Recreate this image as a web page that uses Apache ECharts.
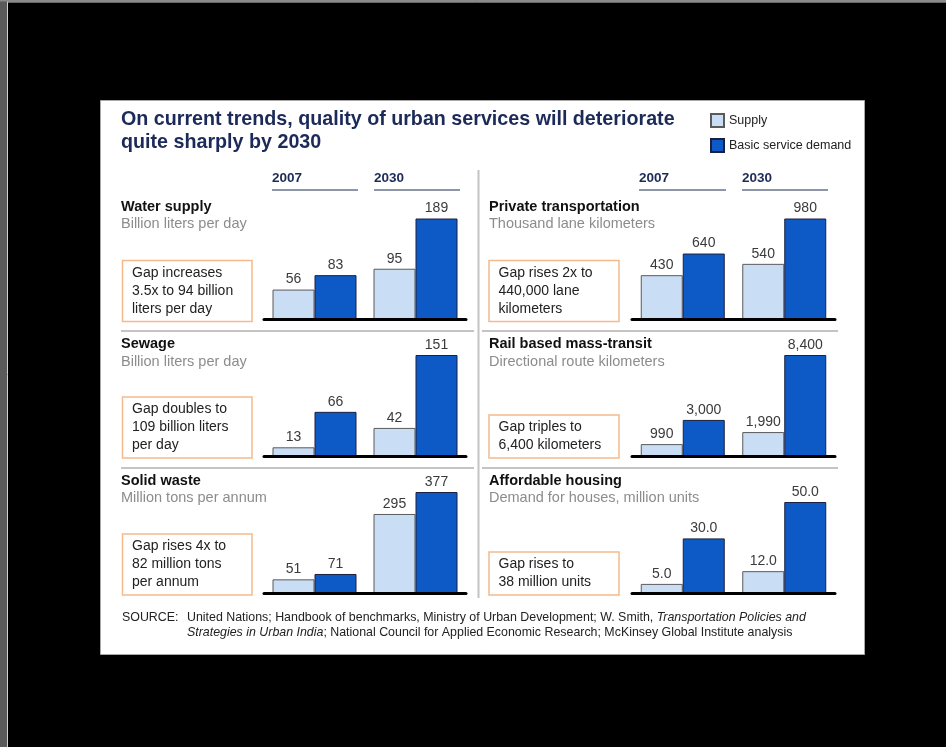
<!DOCTYPE html>
<html>
<head>
<meta charset="utf-8">
<title>Urban services outlook</title>
<script src="https://cdn.jsdelivr.net/npm/echarts@6/dist/echarts.min.js"></script>
<style>
  html, body { margin: 0; padding: 0; background: #000; }
  #chart { width: 946px; height: 747px; }
</style>
</head>
<body>
<div id="chart"></div>
<script>
// ---- data ----
const years = ['2007', '2030'];
const panelTitles = ['Water supply', 'Sewage', 'Solid waste',
  'Private transportation', 'Rail based mass-transit', 'Affordable housing'];
const panelUnits = ['Billion liters per day', 'Billion liters per day', 'Million tons per annum',
  'Thousand lane kilometers', 'Directional route kilometers', 'Demand for houses, million units'];
const supplyValues = [[56, 95], [13, 42], [51, 295], [430, 540], [990, 1990], [5.0, 12.0]];
const demandValues = [[83, 189], [66, 151], [71, 377], [640, 980], [3000, 8400], [30.0, 50.0]];
const scaleMax = [189, 151, 377, 980, 8400, 55.5];
const labelDecimals = [0, 0, 0, 0, 0, 1];
const gapNotes = [
  ['Gap increases', '3.5x to 94 billion', 'liters per day'],
  ['Gap doubles to', '109 billion liters', 'per day'],
  ['Gap rises 4x to', '82 million tons', 'per annum'],
  ['Gap rises 2x to', '440,000 lane', 'kilometers'],
  ['Gap triples to', '6,400 kilometers'],
  ['Gap rises to', '38 million units']
];
const seriesNames = ['Supply', 'Basic service demand'];
const titleLines = ['On current trends, quality of urban services will deteriorate', 'quite sharply by 2030'];

// ---- layout ----
const FONT = '"Liberation Sans", Arial, Helvetica, sans-serif';
const NAVY = '#1b2a58';
const SUPPLY_FILL = '#c9ddf5';
const DEMAND_FILL = '#0d59c5';
const PLOT_H = 101;
const COLS = [
  { titleX: 121, gridLeft: 264, gridWidth: 202, boxX: 122.5, boxW: 129.5, lineX0: 121, lineX1: 474,
    heads: [[272, 358], [374, 460]] },
  { titleX: 489, gridLeft: 632, gridWidth: 203, boxX: 489, boxW: 130, lineX0: 482, lineX1: 838,
    heads: [[639, 726], [742, 828]] }
];
const ROWS = [
  { base: 319.5, titleY: 207, subY: 224 },
  { base: 456, titleY: 344, subY: 362 },
  { base: 593, titleY: 481, subY: 498 }
];

function fmt(v, d) {
  return v.toLocaleString('en-US', { minimumFractionDigits: d, maximumFractionDigits: d });
}

const grids = [], xAxes = [], yAxes = [], series = [];
const graphics = [];

// page frame and white card
graphics.push({ type: 'rect', z: 0, shape: { x: 0, y: 0, width: 7, height: 747 }, style: { fill: '#5a5a5a' } });
graphics.push({ type: 'rect', z: 0, shape: { x: 0, y: 0, width: 946, height: 1.5 }, style: { fill: '#8a8a8a' } });
graphics.push({ type: 'line', z: 0, shape: { x1: 7.5, y1: 1.5, x2: 7.5, y2: 747 }, style: { stroke: '#d0d0d0', lineWidth: 1 } });
graphics.push({ type: 'line', z: 0, shape: { x1: 7.5, y1: 2, x2: 946, y2: 2 }, style: { stroke: '#d0d0d0', lineWidth: 1 } });
graphics.push({ type: 'rect', z: 0, shape: { x: 100.5, y: 100.5, width: 764, height: 554 },
  style: { fill: '#fff', stroke: '#a8a8a8', lineWidth: 1 } });

// heading
titleLines.forEach((t, k) => {
  graphics.push({ type: 'text', z: 2, x: 121, y: 120 + k * 23,
    style: { text: t, fill: NAVY, font: 'bold 19.7px ' + FONT, textVerticalAlign: 'middle' } });
});

// dividers
graphics.push({ type: 'line', z: 2, shape: { x1: 478.5, y1: 170, x2: 478.5, y2: 598 },
  style: { stroke: '#c4c4c4', lineWidth: 2 } });
[331, 468].forEach(y => {
  COLS.forEach(c => {
    graphics.push({ type: 'line', z: 2, shape: { x1: c.lineX0, y1: y, x2: c.lineX1, y2: y },
      style: { stroke: '#c4c4c4', lineWidth: 2 } });
  });
});

// year headers
COLS.forEach(c => {
  c.heads.forEach((h, k) => {
    graphics.push({ type: 'text', z: 2, x: h[0], y: 178,
      style: { text: years[k], fill: NAVY, font: 'bold 13.5px ' + FONT, textVerticalAlign: 'middle' } });
    graphics.push({ type: 'line', z: 2, shape: { x1: h[0], y1: 190, x2: h[1], y2: 190 },
      style: { stroke: '#8e97a8', lineWidth: 2 } });
  });
});

panelTitles.forEach((title, i) => {
  const c = COLS[Math.floor(i / 3)];
  const r = ROWS[i % 3];

  graphics.push({ type: 'text', z: 2, x: c.titleX, y: r.titleY,
    style: { text: title, fill: '#111', font: 'bold 14.5px ' + FONT, textVerticalAlign: 'middle' } });
  graphics.push({ type: 'text', z: 2, x: c.titleX, y: r.subY,
    style: { text: panelUnits[i], fill: '#8c8c8c', font: '14.5px ' + FONT, textVerticalAlign: 'middle' } });

  // callout box
  const lines = gapNotes[i];
  const boxH = 7 + 18 * lines.length;
  const boxBottom = r.base + 2;
  graphics.push({ type: 'rect', z: 2,
    shape: { x: c.boxX, y: boxBottom - boxH, width: c.boxW, height: boxH },
    style: { fill: '#fff', stroke: '#f5b98c', lineWidth: 1.5 } });
  graphics.push({ type: 'text', z: 3, x: c.boxX + 9.5, y: boxBottom - boxH / 2,
    style: { text: lines.join('\n'), fill: '#222', font: '14px ' + FONT,
      lineHeight: 18, textVerticalAlign: 'middle' } });

  // bars
  grids.push({ left: c.gridLeft, width: c.gridWidth, top: r.base - PLOT_H, height: PLOT_H,
    containLabel: false, outerBoundsMode: 'none' });
  xAxes.push({ type: 'category', gridIndex: i, data: years, z: 6,
    axisLine: { show: true, lineStyle: { color: '#000', width: 3 } },
    axisTick: { show: false }, axisLabel: { show: false }, splitLine: { show: false } });
  yAxes.push({ type: 'value', gridIndex: i, min: 0, max: scaleMax[i], show: false,
    splitLine: { show: false } });

  const label = {
    show: true, position: 'top', distance: 3, color: '#3a3a3a',
    fontFamily: FONT, fontSize: 14,
    formatter: p => fmt(p.value, labelDecimals[i])
  };
  series.push({ type: 'bar', name: seriesNames[0], xAxisIndex: i, yAxisIndex: i, z: 5,
    data: supplyValues[i], barWidth: 42, barGap: '0%',
    itemStyle: { color: SUPPLY_FILL, borderColor: '#5a5a5a', borderWidth: 1 },
    label });
  series.push({ type: 'bar', name: seriesNames[1], xAxisIndex: i, yAxisIndex: i, z: 5,
    data: demandValues[i], barWidth: 42, barGap: '0%',
    itemStyle: { color: DEMAND_FILL, borderColor: '#1a2140', borderWidth: 1 },
    label });
});

// source note
const SRC_FONT = '12.4px ' + FONT;
const srcRich = { i: { fontStyle: 'italic', fontSize: 12.4, fontFamily: FONT, fill: '#222' } };
graphics.push({ type: 'text', z: 2, x: 122, y: 618,
  style: { text: 'SOURCE:', fill: '#222', font: SRC_FONT, textVerticalAlign: 'middle' } });
graphics.push({ type: 'text', z: 2, x: 187, y: 618,
  style: { text: 'United Nations; Handbook of benchmarks, Ministry of Urban Development; W. Smith, {i|Transportation Policies and}',
    fill: '#222', font: SRC_FONT, textVerticalAlign: 'middle', rich: srcRich } });
graphics.push({ type: 'text', z: 2, x: 187, y: 633,
  style: { text: '{i|Strategies in Urban India}; National Council for Applied Economic Research; McKinsey Global Institute analysis',
    fill: '#222', font: SRC_FONT, textVerticalAlign: 'middle', rich: srcRich } });

const chart = echarts.init(document.getElementById('chart'), null, { renderer: 'canvas' });
chart.setOption({
  backgroundColor: '#000',
  animation: false,
  legend: {
    data: seriesNames, orient: 'vertical', left: 710, top: 113,
    itemWidth: 13, itemHeight: 13, itemGap: 10, padding: 0,
    icon: 'rect', selectedMode: false,
    textStyle: { color: '#222', fontSize: 12.5, fontFamily: FONT }
  },
  grid: grids,
  xAxis: xAxes,
  yAxis: yAxes,
  series: series,
  graphic: { elements: graphics }
});
</script>
</body>
</html>
